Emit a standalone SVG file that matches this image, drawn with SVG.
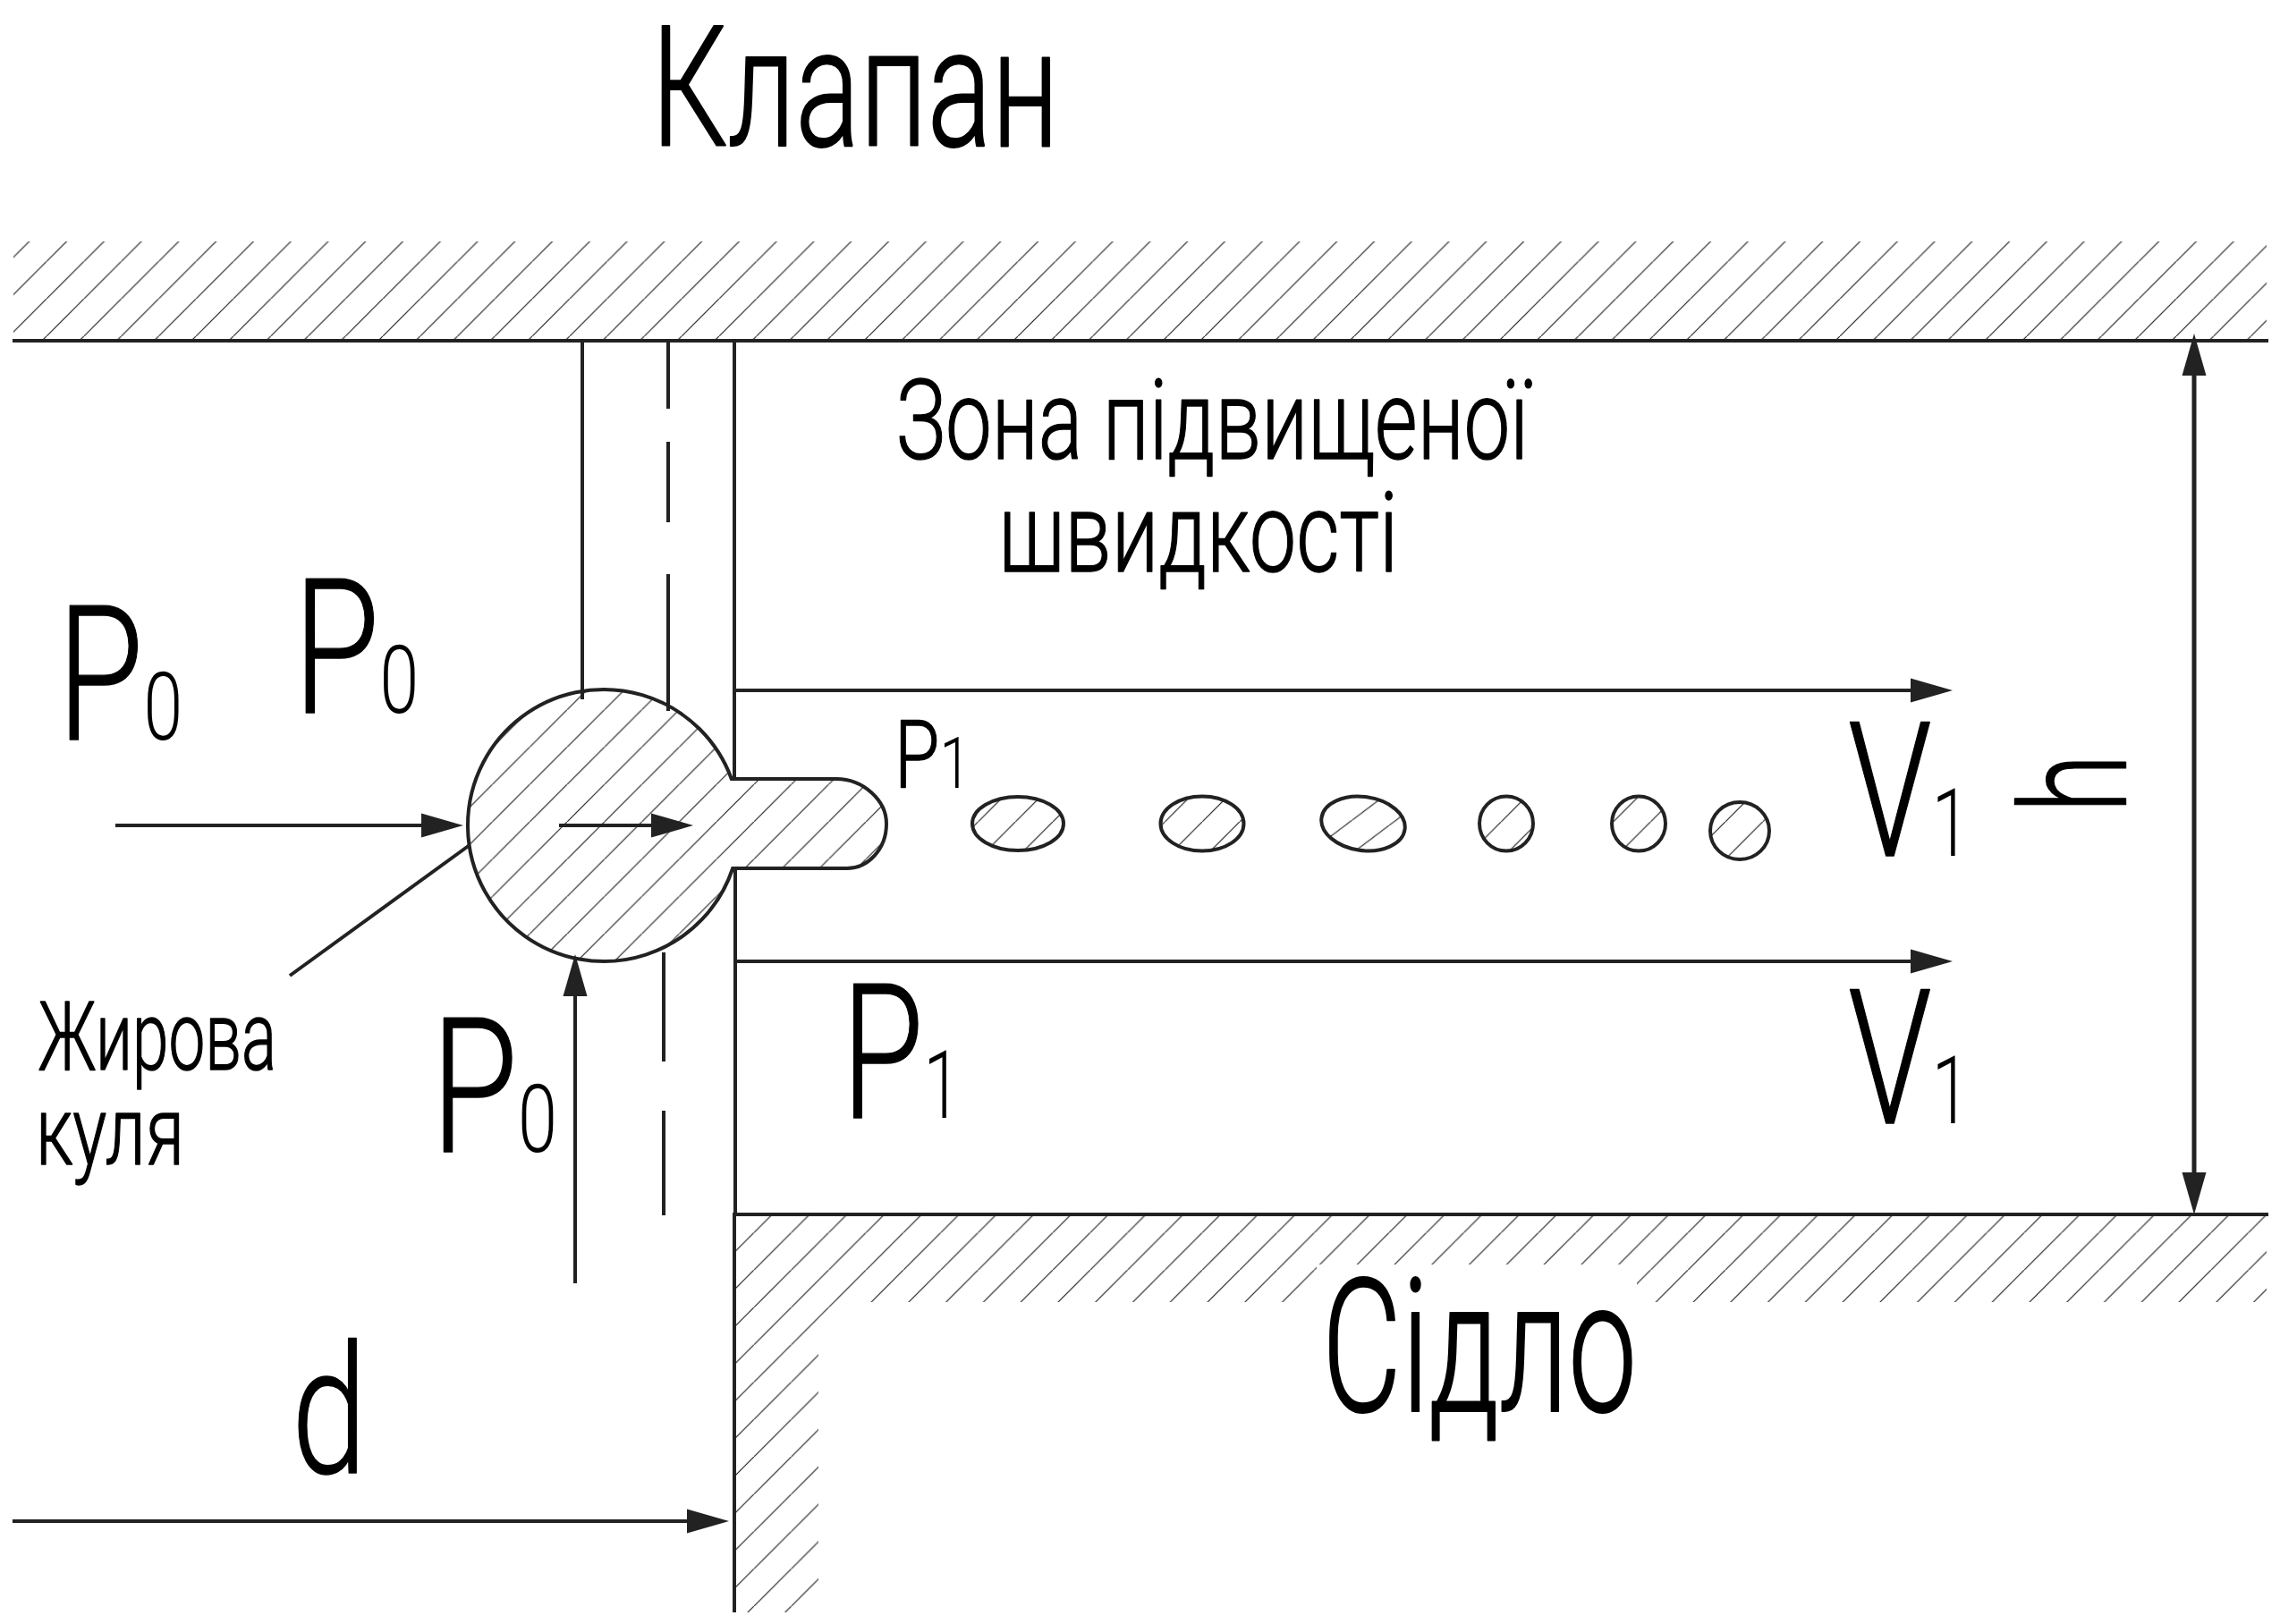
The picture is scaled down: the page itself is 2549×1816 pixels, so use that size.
<svg xmlns="http://www.w3.org/2000/svg" width="2549" height="1816" viewBox="0 0 2549 1816">
<style>
.t{font-family:Roboto,"Liberation Sans",sans-serif;font-weight:300;fill:#000}
.b{stroke:#000;stroke-width:2;stroke-linejoin:round}
.m{stroke:#000;stroke-width:1.4;stroke-linejoin:round}
.l{fill:none;stroke:#222;stroke-width:4}
.a{fill:none;stroke:#222;stroke-width:4;marker-end:url(#arr)}
.h1{fill:url(#hTop);stroke:none}
.h2{fill:url(#hLow);stroke:none}
.s{fill:url(#hLow);stroke:#222;stroke-width:4}
</style>
<defs>
<pattern id="hTop" patternUnits="userSpaceOnUse" x="10.3" y="0" width="41.77" height="41.77"><path d="M-2 43.77L43.77 -2" stroke="#222" stroke-width="1.2" fill="none"/></pattern>
<pattern id="hLow" patternUnits="userSpaceOnUse" x="7.5" y="0" width="41.77" height="41.77"><path d="M-2 43.77L43.77 -2" stroke="#222" stroke-width="1.2" fill="none"/></pattern>
<marker id="arr" markerUnits="userSpaceOnUse" markerWidth="50" markerHeight="30" viewBox="0 -15 50 30" refX="0" refY="0" orient="auto-start-reverse"><path d="M0 -13.5L47 0L0 13.5Z" fill="#222"/></marker>
</defs>
<rect width="2549" height="1816" fill="#fff"/>
<g id="valve">
<rect class="h1" x="15" y="270" width="2519" height="111"/>
<path class="l" d="M14 381H2536"/>
</g>
<g id="seat">
<path class="h2" d="M822 1358H2534V1456H1830V1414H1472V1456H934L915 1475V1803H822Z"/>
<path class="l" d="M2536 1358H821V1803"/>
</g>
<g id="passage">
<path class="l" d="M651 381V782M821 381V872M822 972V1358"/>
<path class="l" d="M747 381V457M747 494V584M747 642V795M742 1065V1187M742 1242V1359"/>
</g>
<g id="fat-ball">
<path class="s" d="M817.8 871H935C965 871 991 895 991 921C991 950 970 971 947 971H819.2A152 152 0 1 1 817.8 871Z"/>
</g>
<g id="droplets">
<ellipse class="s" cx="1138" cy="921" rx="51" ry="30"/>
<ellipse class="s" cx="1344" cy="921" rx="46.5" ry="30.5"/>
<ellipse class="s" cx="1524" cy="921" rx="47" ry="30" transform="rotate(8 1524 921)"/>
<ellipse class="s" cx="1684" cy="921" rx="30" ry="30.5"/>
<ellipse class="s" cx="1832" cy="921" rx="30" ry="30.5"/>
<ellipse class="s" cx="1945" cy="929" rx="33" ry="32"/>
</g>
<g id="connectors">
<path class="a" d="M129 923H471"/>
<path class="a" d="M625 923H728"/>
<path class="a" d="M643 1435V1114"/>
<path class="a" d="M821 772H2136"/>
<path class="a" d="M824 1075H2136"/>
<path class="a" d="M14 1701H768"/>
<path class="l" d="M324 1091L525 945"/>
<path class="l" d="M2453 420V1311" style="stroke-width:5;marker-start:url(#arr);marker-end:url(#arr)"/>
</g>
<g id="labels">
<text class="t b" x="728" y="163" font-size="187" textLength="456" lengthAdjust="spacingAndGlyphs">Клапан</text>
<text class="t b" x="1478" y="1578" font-size="208" textLength="352" lengthAdjust="spacingAndGlyphs">Сідло</text>
<text class="t m" x="1002" y="513" font-size="124" textLength="707" lengthAdjust="spacingAndGlyphs">Зона підвищеної</text>
<text class="t m" x="1116" y="639" font-size="124" textLength="447" lengthAdjust="spacingAndGlyphs">швидкості</text>
<text class="t m" x="43" y="1196" font-size="107" textLength="266" lengthAdjust="spacingAndGlyphs">Жирова</text>
<text class="t m" x="40" y="1302" font-size="107" textLength="166" lengthAdjust="spacingAndGlyphs">куля</text>
<text class="t" x="64" y="827" font-size="209" textLength="140" lengthAdjust="spacingAndGlyphs"><tspan class="m">P</tspan><tspan font-size="105">0</tspan></text>
<text class="t" x="328" y="797" font-size="209" textLength="140" lengthAdjust="spacingAndGlyphs"><tspan class="m">P</tspan><tspan font-size="105">0</tspan></text>
<text class="t" x="482" y="1288" font-size="209" textLength="141" lengthAdjust="spacingAndGlyphs"><tspan class="m">P</tspan><tspan font-size="105">0</tspan></text>
<text class="t" x="941" y="1250" font-size="209" textLength="133" lengthAdjust="spacingAndGlyphs"><tspan class="m">P</tspan><tspan font-size="105">1</tspan></text>
<text class="t" x="1000" y="881" font-size="105" textLength="85" lengthAdjust="spacingAndGlyphs"><tspan class="m">P</tspan><tspan font-size="80">1</tspan></text>
<text class="t" x="2066" y="957" font-size="209" textLength="136" lengthAdjust="spacingAndGlyphs"><tspan class="m">V</tspan><tspan font-size="105">1</tspan></text>
<text class="t" x="2066" y="1256" font-size="209" textLength="136" lengthAdjust="spacingAndGlyphs"><tspan class="m">V</tspan><tspan font-size="105">1</tspan></text>
<text class="t m" x="326" y="1647" font-size="200" textLength="84" lengthAdjust="spacingAndGlyphs">d</text>
<text class="t m" font-size="166" textLength="66" lengthAdjust="spacingAndGlyphs" transform="translate(2377 909) rotate(-90)">h</text>
</g>
</svg>
